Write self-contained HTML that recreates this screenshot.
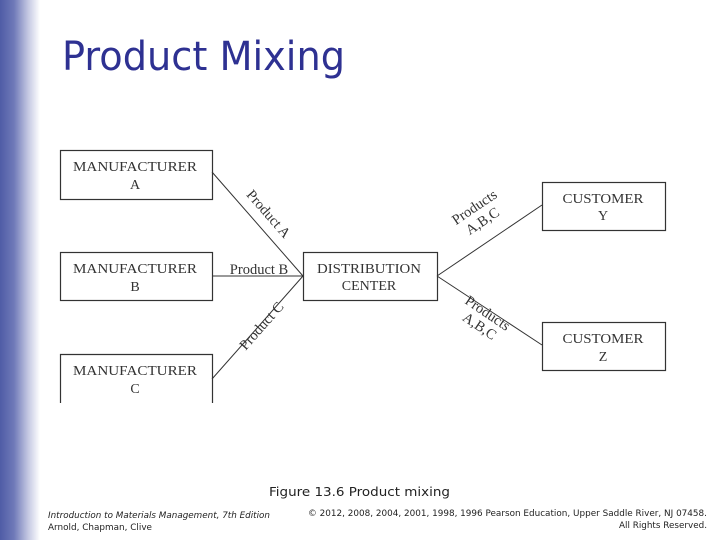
<!DOCTYPE html>
<html><head><meta charset="utf-8"><style>
html,body{margin:0;padding:0;background:#fff}
svg{display:block}
</style></head><body>
<svg width="720" height="540" viewBox="0 0 720 540" xmlns="http://www.w3.org/2000/svg">
<defs>
<linearGradient id="g" x1="0" x2="1" y1="0" y2="0">
<stop offset="0" stop-color="#4f5ca6"/>
<stop offset="0.35" stop-color="#6f79b8"/>
<stop offset="0.7" stop-color="#c3c7e2"/>
<stop offset="1" stop-color="#ffffff"/>
</linearGradient>
</defs>
<rect x="0" y="0" width="40" height="540" fill="url(#g)"/>
<text x="62" y="70" font-family="DejaVu Sans, sans-serif" font-size="40" fill="#2e3192" textLength="283" lengthAdjust="spacingAndGlyphs">Product Mixing</text>

<g fill="none" stroke="#333" stroke-width="1.2">
<rect x="60.5" y="150.5" width="152" height="49"/>
<rect x="60.5" y="252.5" width="152" height="48"/>
<path d="M60.5 403 V354.5 H212.5 V403"/>
<rect x="303.5" y="252.5" width="134" height="48"/>
<rect x="542.5" y="182.5" width="123" height="48"/>
<rect x="542.5" y="322.5" width="123" height="48"/>
<path d="M212 172 L303 276 M212 276 L303 276 M212 379 L303 276 M437 276 L542 205 M437 276 L542 345" stroke-width="1"/>
</g>
<g font-family="Liberation Serif, serif" font-size="14" fill="#333" text-anchor="middle">
<text x="135" y="171" textLength="124" lengthAdjust="spacingAndGlyphs">MANUFACTURER</text><text x="135" y="189">A</text>
<text x="135" y="273" textLength="124" lengthAdjust="spacingAndGlyphs">MANUFACTURER</text><text x="135" y="291">B</text>
<text x="135" y="375" textLength="124" lengthAdjust="spacingAndGlyphs">MANUFACTURER</text><text x="135" y="393">C</text>
<text x="369" y="273" textLength="104" lengthAdjust="spacingAndGlyphs">DISTRIBUTION</text><text x="369" y="290">CENTER</text>
<text x="603" y="203" textLength="81" lengthAdjust="spacingAndGlyphs">CUSTOMER</text><text x="603" y="220">Y</text>
<text x="603" y="343" textLength="81" lengthAdjust="spacingAndGlyphs">CUSTOMER</text><text x="603" y="361">Z</text>
<text x="259" y="274" font-size="14.5">Product B</text>
<text transform="translate(265,217) rotate(48.8)" font-size="14.5">Product A</text>
<text transform="translate(265,329) rotate(-48.5)" font-size="14.5">Product C</text>
<text transform="translate(477,211) rotate(-34)" font-size="14.5">Products</text>
<text transform="translate(485,225) rotate(-34)" font-size="14.5">A,B,C</text>
<text transform="translate(485,317) rotate(34)" font-size="14.5">Products</text>
<text transform="translate(477,330) rotate(34)" font-size="14.5">A,B,C</text>
</g>
<g font-family="DejaVu Sans, sans-serif" fill="#222">
<text x="269" y="496" font-size="12.5" textLength="181" lengthAdjust="spacingAndGlyphs">Figure 13.6  Product mixing</text>
<text x="48" y="518" font-size="9" font-style="italic" textLength="222" lengthAdjust="spacingAndGlyphs">Introduction to Materials Management, 7th Edition</text>
<text x="48" y="530" font-size="9" textLength="104" lengthAdjust="spacingAndGlyphs">Arnold, Chapman, Clive</text>
<text x="707" y="516" font-size="9" text-anchor="end" textLength="399" lengthAdjust="spacingAndGlyphs">© 2012, 2008, 2004, 2001, 1998, 1996 Pearson Education, Upper Saddle River, NJ 07458.</text>
<text x="707" y="528" font-size="9" text-anchor="end" textLength="88" lengthAdjust="spacingAndGlyphs">All Rights Reserved.</text>
</g>
</svg>
</body></html>
